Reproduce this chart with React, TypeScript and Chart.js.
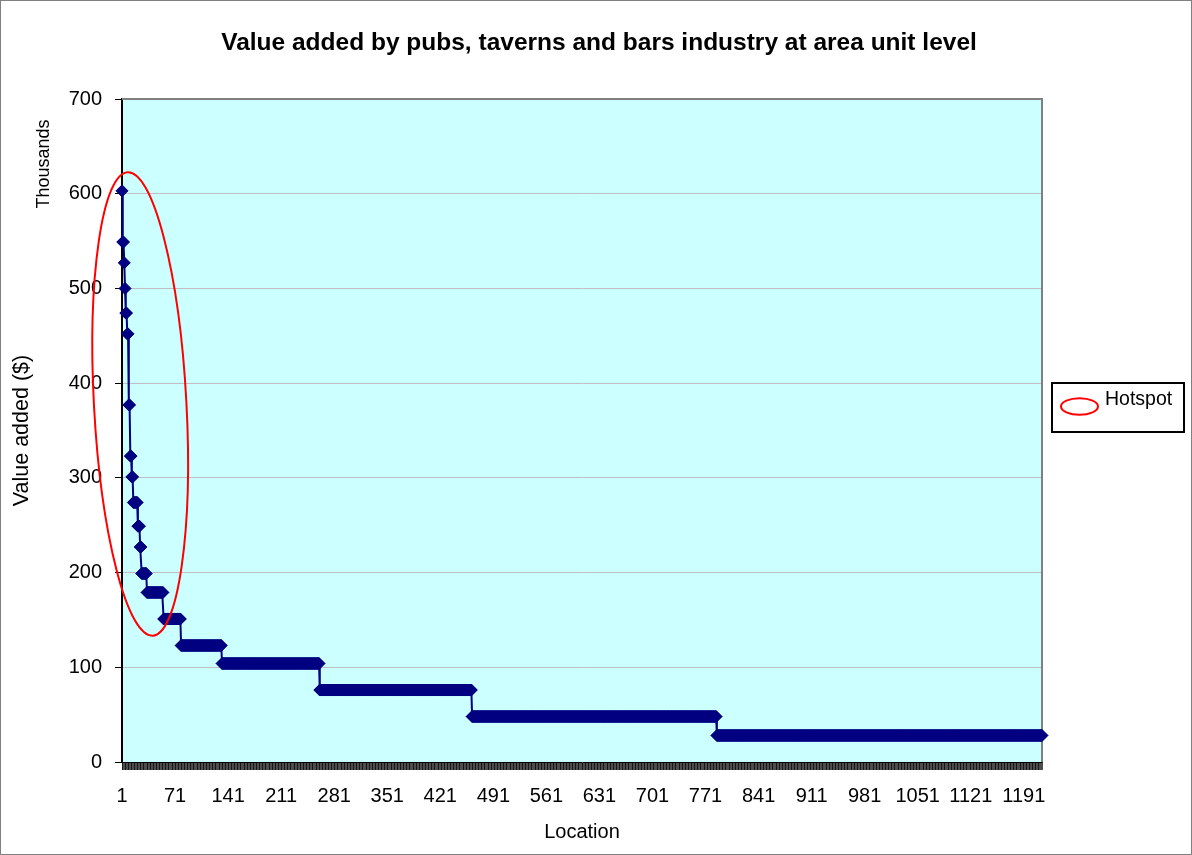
import React, { useEffect, useRef } from 'react';
import { Chart, registerables } from 'chart.js';

Chart.register(...registerables);

// ---- data ----
const chartTitle = 'Value added by pubs, taverns and bars industry at area unit level';
const xAxisTitle = 'Location';
const yAxisTitle = 'Value added ($)';
const yUnitLabel = 'Thousands';
const legendLabel = 'Hotspot';

// value-added levels (thousands of $), in rank order, and how many locations sit at each level
const levelValues = [603, 549, 527, 500, 474, 452, 377, 323, 301, 274, 249, 227, 199, 179, 151, 123, 104, 76, 48, 28];
const levelCounts = [1, 2, 1, 1, 2, 2, 2, 2, 2, 6, 3, 2, 7, 22, 23, 54, 129, 201, 323, 430];
const yTickValues = [0, 100, 200, 300, 400, 500, 600, 700];
const xLabelEvery = 70;

// hotspot ellipse, in data terms (location index, value in thousands)
const hotspotCenterLocation = 25;
const hotspotCenterValue = 378;
const hotspotHalfWidthLocations = 61;
const hotspotHalfHeightValue = 245;
const hotspotTiltRad = -0.054;

// expanded series (one value per location)
const values: number[] = [];
levelValues.forEach((v, k) => {
  for (let n = 0; n < levelCounts[k]; n++) values.push(v);
});
const locations: string[] = values.map((_, i) => String(i + 1));

const FONT = '"Liberation Sans", Arial, sans-serif';

export default function App() {
  const canvasRef = useRef<HTMLCanvasElement | null>(null);

  useEffect(() => {
    const canvas = canvasRef.current;
    if (!canvas) return;

    const decorPlugin = {
      id: 'decor',
      beforeDraw(chart: any) {
        const { ctx, chartArea, width, height } = chart;
        ctx.save();
        ctx.fillStyle = '#ffffff';
        ctx.fillRect(0, 0, width, height);
        ctx.fillStyle = '#CCFFFF';
        ctx.fillRect(chartArea.left, chartArea.top, chartArea.right - chartArea.left, chartArea.bottom - chartArea.top);
        ctx.restore();
      },
      beforeDatasetsDraw(chart: any) {
        const { ctx, chartArea } = chart;
        ctx.save();
        ctx.strokeStyle = '#808080';
        ctx.lineWidth = 2;
        ctx.beginPath();
        ctx.moveTo(chartArea.left, chartArea.top);
        ctx.lineTo(chartArea.right, chartArea.top);
        ctx.lineTo(chartArea.right, chartArea.bottom);
        ctx.stroke();
        ctx.restore();
      },
      afterDraw(chart: any) {
        const { ctx, chartArea, width, height, scales } = chart;
        ctx.save();
        // outer frame
        ctx.strokeStyle = '#808080';
        ctx.lineWidth = 1;
        ctx.strokeRect(0.5, 0.5, width - 1, height - 1);

        // title
        ctx.fillStyle = '#000';
        ctx.font = `bold 24.5px ${FONT}`;
        ctx.textAlign = 'center';
        ctx.textBaseline = 'middle';
        ctx.fillText(chartTitle, width / 2 + 3, 43);

        // "Thousands" unit label
        ctx.save();
        ctx.translate(chartArea.left - 78, chartArea.top + 65);
        ctx.rotate(-Math.PI / 2);
        ctx.font = `18px ${FONT}`;
        ctx.textAlign = 'center';
        ctx.textBaseline = 'middle';
        ctx.fillText(yUnitLabel, 0, 0);
        ctx.restore();

        // hotspot ellipse (data terms through the scales)
        const xs = scales.x;
        const ys = scales.y;
        const cx = xs.getPixelForValue(hotspotCenterLocation - 1);
        const cy = ys.getPixelForValue(hotspotCenterValue);
        const rx = Math.abs(xs.getPixelForValue(hotspotCenterLocation - 1 + hotspotHalfWidthLocations) - cx);
        const ry = Math.abs(ys.getPixelForValue(hotspotCenterValue + hotspotHalfHeightValue) - cy);
        ctx.strokeStyle = '#FF0000';
        ctx.lineWidth = 2;
        ctx.beginPath();
        ctx.ellipse(cx, cy, rx, ry, hotspotTiltRad, 0, Math.PI * 2);
        ctx.stroke();

        // legend box
        const lx = chartArea.right + 10;
        const ly = 383;
        const lw = 132;
        const lh = 49;
        ctx.fillStyle = '#ffffff';
        ctx.fillRect(lx, ly, lw, lh);
        ctx.strokeStyle = '#000';
        ctx.lineWidth = 2;
        ctx.strokeRect(lx, ly, lw, lh);
        ctx.strokeStyle = '#FF0000';
        ctx.lineWidth = 2;
        ctx.beginPath();
        ctx.ellipse(lx + 27.5, ly + 23.5, 18.5, 8.3, 0, 0, Math.PI * 2);
        ctx.stroke();
        ctx.fillStyle = '#000';
        ctx.font = `19.5px ${FONT}`;
        ctx.textAlign = 'left';
        ctx.textBaseline = 'middle';
        ctx.fillText(legendLabel, lx + 53, ly + 17);
        ctx.restore();
      },
    };

    const chart = new Chart(canvas, {
      type: 'line',
      data: {
        labels: locations,
        datasets: [
          {
            label: 'Value added',
            data: values,
            borderColor: '#000080',
            backgroundColor: '#000080',
            borderWidth: 2,
            pointStyle: 'rectRot',
            pointRadius: 6,
            pointBorderWidth: 1,
            pointBorderColor: '#000080',
            pointBackgroundColor: '#000080',
            tension: 0,
          },
        ],
      },
      options: {
        animation: false,
        responsive: false,
        maintainAspectRatio: false,
        events: [],
        layout: { padding: { top: 99, right: 150, left: 0, bottom: 0 } },
        plugins: {
          legend: { display: false },
          title: { display: false },
          tooltip: { enabled: false },
        },
        scales: {
          x: {
            type: 'category',
            offset: false,
            grid: {
              display: true,
              drawOnChartArea: false,
              drawTicks: true,
              tickLength: 8,
              color: '#000',
              lineWidth: 0.7,
            },
            border: { display: true, color: '#000', width: 1 },
            ticks: {
              autoSkip: false,
              maxRotation: 0,
              minRotation: 0,
              padding: 14,
              color: '#000',
              font: { family: FONT, size: 20 },
              callback: (_v: any, i: number) => (i % xLabelEvery === 0 ? locations[i] : ''),
            },
            title: {
              display: true,
              text: xAxisTitle,
              color: '#000',
              font: { family: FONT, size: 20 },
              padding: { top: 0, bottom: 11 },
            },
            afterFit: (s: any) => {
              s.height = 93;
            },
          },
          y: {
            min: 0,
            max: 700,
            afterBuildTicks: (s: any) => {
              s.ticks = yTickValues.map((v) => ({ value: v }));
            },
            ticks: {
              padding: 13,
              color: '#000',
              font: { family: FONT, size: 20 },
            },
            grid: {
              color: '#C0C0C0',
              tickColor: '#000',
              tickLength: 7,
              drawTicks: true,
              lineWidth: 1,
            },
            border: { display: true, color: '#000', width: 2 },
            title: {
              display: true,
              text: yAxisTitle,
              color: '#000',
              font: { family: FONT, size: 21.5 },
              padding: { top: 9, bottom: 0 },
            },
            afterFit: (s: any) => {
              s.width = 122;
            },
          },
        },
      },
      plugins: [decorPlugin],
    });

    return () => chart.destroy();
  }, []);

  return (
    <div style={{ position: 'absolute', left: 0, top: 0, width: 1192, height: 855 }}>
      <canvas ref={canvasRef} width={1192} height={855} style={{ width: 1192, height: 855, display: 'block' }} />
    </div>
  );
}
